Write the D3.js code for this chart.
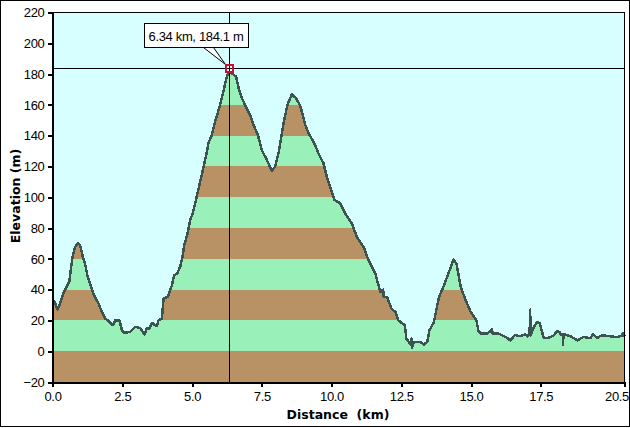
<!DOCTYPE html>
<html><head><meta charset="utf-8">
<script src="https://cdn.jsdelivr.net/npm/d3@7"></script>
<style>
html,body{margin:0;padding:0;background:#fff;overflow:hidden}
svg{display:block}
text{font-family:"Liberation Sans",Arial,sans-serif;fill:#000}
</style></head><body>
<svg id="c" width="630" height="428"></svg>
<script>
const distanceKm=[0,.10,.18,.27,.39,.49,.60,.66,.73,.81,.91,.99,1.09,1.18,1.25,1.37,1.49,1.65,1.77,1.89,2.01,2.16,2.25,2.40,2.49,2.57,2.78,2.96,3.14,3.30,3.38,3.48,3.56,3.74,3.80,3.92,3.98,4.13,4.28,4.36,4.48,4.58,4.66,4.72,4.84,4.93,5.03,5.17,5.35,5.51,5.59,5.71,5.83,5.99,6.11,6.22,6.34,6.42,6.58,6.67,6.79,6.94,7.08,7.23,7.36,7.50,7.68,7.86,7.98,8.10,8.28,8.42,8.58,8.73,8.88,9.06,9.18,9.41,9.53,9.71,9.83,10.0,10.1,10.3,10.49,10.73,10.91,11.15,11.33,11.57,11.75,11.85,11.87,11.99,12.15,12.29,12.39,12.63,12.68,12.83,12.87,12.89,12.95,13.19,13.31,13.43,13.51,13.67,13.85,14.03,14.21,14.37,14.48,14.63,14.81,14.99,15.19,15.27,15.37,15.57,15.66,15.75,15.78,15.99,16.23,16.41,16.58,16.76,16.94,17.03,17.10,17.12,17.13,17.24,17.36,17.46,17.54,17.6,17.78,17.96,18.08,18.17,18.22,18.29,18.30,18.31,18.56,18.82,19.03,19.27,19.37,19.53,19.69,19.99,20.23,20.41,20.45,20.5];
const elevationM=[34.2,30.9,27,30.9,37.4,41.3,45,53.6,62.3,67.7,70.3,68.8,61.2,55.8,49.3,42.8,36.3,30.9,25.5,21.2,19.7,16.9,20.1,20.1,13.6,11.9,12.5,15.8,15.1,11,14.7,14.7,18.4,16.2,20.1,21.2,34.2,35.2,42.8,49.3,50.8,55.1,61.2,68.8,76.3,85,89.7,100.5,114.6,127.6,135.1,140.5,149.2,158.9,167.6,176.2,184.1,180.5,178.4,170.8,164.3,158.5,153.5,145.9,140.5,130.8,124.3,117.2,120,128.6,148.1,160,166.9,164.3,159.4,147,141.6,134,128.6,122.2,113.5,103.8,98.4,96.2,89.5,82.8,74.2,67.7,59,50.4,38.5,40,35.2,35.2,27.7,25.5,20.1,16.9,8.2,4.5,8.2,2.4,6,6,4.3,6,13.6,19,35.2,42.8,51.5,59.5,56.9,41.7,33,25.5,20.1,13,11.3,11.5,12.6,14.1,11.5,11.5,9.3,7.1,10.6,9.7,11,9.7,11.9,27,10.2,15.2,18.8,18.4,13,8.7,8.7,10.2,13,12.6,10.8,11.3,3.9,11.3,9.7,7.1,9.3,8.4,10.8,8.7,10.4,9.7,9.1,10.2,11.9,9.7];
const xTicks=[0,2.5,5,7.5,10,12.5,15,17.5,20.5];
const xTickLabels=["0.0","2.5","5.0","7.5","10.0","12.5","15.0","17.5","20.5"];
const yTicks=[-20,0,20,40,60,80,100,120,140,160,180,200,220];
const brownBandStarts=[-20,20,60,100,140,180];
const greenBandStarts=[0,40,80,120,160];
const bandHeight=[20];
const cursorKm=[6.34];
const cursorM=[184.1];
const cursorLabel=["6.34 km, 184.1 m"];

const svg=d3.select("#c");
const x=d3.scaleLinear().domain([0,20.5]).range([52.5,624.5]);
const y=d3.scaleLinear().domain([-20,220]).range([382,12.5]);
const SKY="#d8ffff",GREEN="#99f0b8",BROWN="#b89264",LINE="#3c5450";
const TICKFONT=13;

svg.append("rect").attr("x",.5).attr("y",.5).attr("width",629).attr("height",426).attr("fill","#fff").attr("stroke","#000").attr("shape-rendering","crispEdges");
svg.append("rect").attr("x",x(0)).attr("y",y(220)).attr("width",x(20.5)-x(0)).attr("height",y(-20)-y(220)).attr("fill",SKY);

const pts=distanceKm.map((d,i)=>[d,elevationM[i]]);
const area=d3.area().x(d=>x(d[0])).y1(d=>y(d[1])).y0(y(-20));
svg.append("clipPath").attr("id","prof").append("path").datum(pts).attr("d",area);
const bands=svg.append("g").attr("clip-path","url(#prof)").attr("shape-rendering","crispEdges");
const band=(starts,col)=>bands.selectAll(null).data(starts).enter().append("rect")
  .attr("x",x(0)).attr("width",x(20.5)-x(0))
  .attr("y",d=>y(d+bandHeight[0])).attr("height",d=>y(d)-y(d+bandHeight[0])).attr("fill",col);
band(brownBandStarts,BROWN);band(greenBandStarts,GREEN);

svg.append("path").datum(pts).attr("fill","none").attr("stroke",LINE).attr("stroke-width",2.5)
  .attr("shape-rendering","crispEdges")
  .attr("stroke-linejoin","round").attr("d",d3.line().x(d=>x(d[0])).y(d=>y(d[1])));

// cursor lines
const cx=Math.floor(x(cursorKm[0]))+.5,cy=Math.round(y(cursorM[0]))+.5;
const cur=svg.append("g").attr("shape-rendering","crispEdges").attr("stroke","#000");
cur.append("line").attr("x1",cx).attr("x2",cx).attr("y1",y(220)).attr("y2",y(-20));
cur.append("line").attr("x1",x(0)).attr("x2",x(20.5)).attr("y1",cy).attr("y2",cy);

// frame
const fr=svg.append("g").attr("shape-rendering","crispEdges");
fr.append("rect").attr("x",x(0)).attr("y",y(220)).attr("width",x(20.5)-x(0)).attr("height",y(-20)-y(220)).attr("fill","none").attr("stroke","#000");

// axes
const ax=svg.append("g").attr("transform",`translate(0,${y(-20)})`)
  .call(d3.axisBottom(x).tickValues(xTicks).tickFormat((d,i)=>xTickLabels[i]).tickSize(5).tickSizeOuter(0));
const ay=svg.append("g").attr("transform",`translate(${x(0)},0)`)
  .call(d3.axisLeft(y).tickValues(yTicks).tickFormat(d3.format("d")).tickSize(5).tickSizeOuter(0));
[ax,ay].forEach(g=>{
  g.selectAll("path").attr("stroke","#000").attr("stroke-width",2).attr("shape-rendering","crispEdges");
  g.selectAll("line").attr("stroke","#000").attr("stroke-width",2).attr("shape-rendering","crispEdges");
  g.selectAll("text").attr("font-size",TICKFONT).attr("letter-spacing",-0.35).attr("font-family",'"Liberation Sans",Arial,sans-serif').attr("fill","#000");
});
ax.selectAll("text").attr("dy","0.71em").attr("y",10);
ax.selectAll("text").filter(d=>d===20.5).attr("text-anchor","end").attr("dx",4);
ay.selectAll("text").attr("x",-8);

svg.append("text").attr("x",338).attr("y",419).attr("text-anchor","middle").attr("font-size",12.5).attr("font-weight","bold").attr("style",'font-family:"DejaVu Sans";white-space:pre').text("Distance  (km)");
svg.append("text").attr("transform","translate(20,196) rotate(-90)").attr("text-anchor","middle").attr("font-size",12.5).attr("font-weight","bold").attr("style",'font-family:"DejaVu Sans";white-space:pre').text("Elevation (m)");

// callout
const bx=cx-85,by=cy-45,bw=104,bh=24;
const call=svg.append("g");
call.append("path").attr("fill","#fff").attr("stroke","#000").attr("stroke-width",1)
  .attr("d",`M${bx+59},${by+bh}L${cx-4},${cy-4}L${bx+69},${by+bh}`);
call.append("rect").attr("x",bx).attr("y",by).attr("width",bw).attr("height",bh).attr("fill","#fff").attr("stroke","#000").attr("shape-rendering","crispEdges");
call.append("text").attr("x",bx+bw/2-.5).attr("y",by+17).attr("text-anchor","middle").attr("font-size",TICKFONT).attr("letter-spacing",-0.35).text(cursorLabel[0]);
// marker
const mk=svg.append("g").attr("shape-rendering","crispEdges");
mk.append("rect").attr("x",cx-3.5).attr("y",cy-3.5).attr("width",7).attr("height",7).attr("fill","#fff").attr("stroke","#c8102e").attr("stroke-width",2);
mk.append("line").attr("x1",cx-2.5).attr("x2",cx+2.5).attr("y1",cy).attr("y2",cy).attr("stroke","#000");
mk.append("line").attr("x1",cx).attr("x2",cx).attr("y1",cy-2.5).attr("y2",cy+2.5).attr("stroke","#000");
</script></body></html>
